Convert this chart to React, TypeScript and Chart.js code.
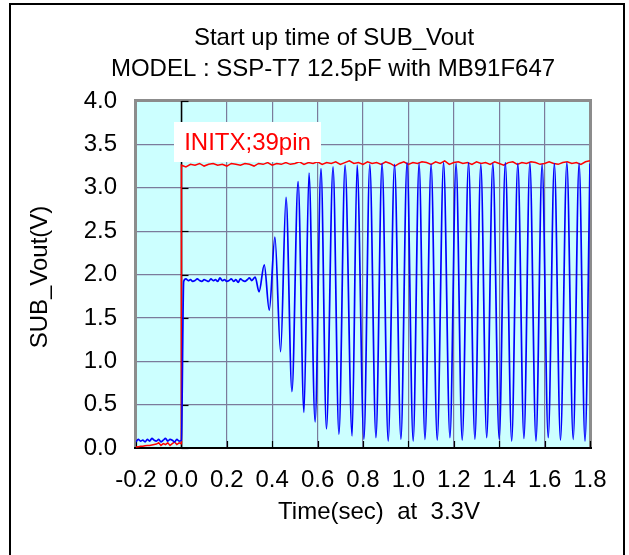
import React, { useEffect, useRef } from 'react';
import { Chart, registerables } from 'chart.js';

Chart.register(...registerables);

// ---------- text ----------
const titleLines = ['Start up time of SUB_Vout', 'MODEL : SSP-T7 12.5pF with MB91F647'];
const xAxisTitle = 'Time(sec)  at  3.3V';
const yAxisTitle = 'SUB_Vout(V)';
const annotationText = 'INITX;39pin';

// ---------- ticks ----------
const xTicks = [-0.2, 0.0, 0.2, 0.4, 0.6, 0.8, 1.0, 1.2, 1.4, 1.6, 1.8];
const yTicks = [0.0, 0.5, 1.0, 1.5, 2.0, 2.5, 3.0, 3.5, 4.0];

// ---------- INITX (red) ----------
const redPreStart = -0.2;
const redPreStep = 0.01;
const redPreValues = [0.01, 0.015, 0.02, 0.02, 0.025, 0.03, 0.03, 0.035, 0.04, 0.045, 0.06, 0.03, 0.05, 0.04, 0.06, 0.03, 0.05, 0.07, 0.04, 0.06, 0.05];
const redPostStart = 0.0;
const redPostStep = 0.02;
const redPostValues = [
  3.26, 3.24, 3.27, 3.26, 3.28, 3.25, 3.27, 3.28, 3.26, 3.27,
  3.25, 3.28, 3.27, 3.26, 3.28, 3.27, 3.25, 3.28, 3.27, 3.29,
  3.26, 3.28, 3.27, 3.29, 3.27, 3.28, 3.30, 3.27, 3.29, 3.28,
  3.30, 3.27, 3.29, 3.28, 3.30, 3.27, 3.29, 3.31, 3.28, 3.29,
  3.27, 3.30, 3.28, 3.29, 3.27, 3.30, 3.28, 3.25, 3.28, 3.30,
  3.27, 3.29, 3.28, 3.30, 3.29, 3.27, 3.30, 3.28, 3.31, 3.27,
  3.29, 3.30, 3.28, 3.29, 3.27, 3.30, 3.28, 3.29, 3.27, 3.30,
  3.28, 3.26, 3.29, 3.30, 3.27, 3.29, 3.28, 3.30, 3.29, 3.27,
  3.28, 3.30, 3.28, 3.27, 3.29, 3.30, 3.28, 3.29, 3.27, 3.30,
  3.31,
];

// ---------- SUB_Vout (blue) ----------
const bluePreStart = -0.2;
const bluePreStep = 0.01;
const bluePreValues = [0.07, 0.10, 0.08, 0.09, 0.07, 0.10, 0.08, 0.11, 0.09, 0.08, 0.10, 0.07, 0.09, 0.11, 0.08, 0.10, 0.09, 0.07, 0.10, 0.08, 0.09];
const blueFlatStart = 0.01;
const blueFlatStep = 0.01;
const blueFlatValues = [
  1.92, 1.95, 1.93, 1.94, 1.92, 1.93, 1.95, 1.93, 1.92, 1.94,
  1.93, 1.92, 1.95, 1.93, 1.94, 1.92, 1.96, 1.93, 1.94, 1.92,
  1.93, 1.95, 1.92, 1.94, 1.91, 1.95, 1.93, 1.92, 1.94, 1.96, 1.93,
];
const blueOscTimes = [
  0.325, 0.342, 0.365, 0.387, 0.412, 0.437, 0.461, 0.487, 0.514, 0.540,
  0.562, 0.589, 0.615, 0.639, 0.668, 0.694, 0.721, 0.752, 0.774, 0.804,
  0.830, 0.857, 0.884, 0.911, 0.939, 0.967, 0.994, 1.021, 1.047, 1.073,
  1.100, 1.127, 1.155, 1.183, 1.210, 1.237, 1.265, 1.293, 1.319, 1.345,
  1.372, 1.400, 1.427, 1.455, 1.482, 1.509, 1.535, 1.562, 1.589, 1.616,
  1.643, 1.670, 1.698, 1.726, 1.752, 1.778, 1.800,
];
const blueOscValues = [
  1.97, 1.80, 2.11, 1.59, 2.43, 1.11, 2.89, 0.65, 3.07, 0.41,
  3.17, 0.30, 3.22, 0.22, 3.24, 0.16, 3.26, 0.14, 3.26, 0.10,
  3.27, 0.12, 3.28, 0.08, 3.27, 0.10, 3.29, 0.08, 3.28, 0.10,
  3.27, 0.09, 3.29, 0.12, 3.28, 0.09, 3.29, 0.10, 3.27, 0.12,
  3.28, 0.10, 3.29, 0.08, 3.28, 0.11, 3.29, 0.08, 3.27, 0.12,
  3.28, 0.09, 3.29, 0.10, 3.28, 0.08, 3.28,
];

const FONT = "'Liberation Sans', Arial, Helvetica, sans-serif";

function sampled(start: number, step: number, values: number[]) {
  return values.map((v, i) => ({ x: +(start + i * step).toFixed(4), y: v }));
}

const redData = [...sampled(redPreStart, redPreStep, redPreValues), ...sampled(redPostStart, redPostStep, redPostValues)];
const blueData = [
  ...sampled(bluePreStart, bluePreStep, bluePreValues),
  ...sampled(blueFlatStart, blueFlatStep, blueFlatValues),
  ...blueOscTimes.map((t, i) => ({ x: t, y: blueOscValues[i] })),
];

const decor = {
  id: 'decor',
  beforeDraw(chart: any) {
    const { ctx, chartArea: a } = chart;
    ctx.save();
    ctx.fillStyle = '#ccffff';
    ctx.fillRect(a.left, a.top, a.right - a.left, a.bottom - a.top);
    ctx.restore();
  },
  beforeDatasetsDraw(chart: any) {
    const { ctx, chartArea: a, scales } = chart;
    ctx.save();
    ctx.strokeStyle = '#8c8c8c';
    ctx.lineWidth = 3;
    ctx.beginPath();
    ctx.moveTo(a.left - 0.5, a.bottom);
    ctx.lineTo(a.left - 0.5, a.top - 0.5);
    ctx.lineTo(a.right + 0.5, a.top - 0.5);
    ctx.lineTo(a.right + 0.5, a.bottom);
    ctx.stroke();
    ctx.strokeStyle = '#000';
    ctx.lineWidth = 2;
    ctx.beginPath();
    ctx.moveTo(a.left - 2, a.bottom);
    ctx.lineTo(a.right + 2, a.bottom);
    ctx.stroke();
    ctx.lineWidth = 1.2;
    xTicks.forEach((v) => {
      const px = Math.round(scales.x.getPixelForValue(v)) + 0.5;
      ctx.beginPath();
      ctx.moveTo(px, a.bottom);
      ctx.lineTo(px, a.bottom - 7);
      ctx.stroke();
    });
    const x0 = Math.round(scales.x.getPixelForValue(0)) + 0.5;
    ctx.lineWidth = 1.5;
    ctx.beginPath();
    ctx.moveTo(x0, a.top);
    ctx.lineTo(x0, a.bottom);
    ctx.stroke();
    ctx.lineWidth = 1.2;
    yTicks.forEach((v) => {
      const py = Math.round(scales.y.getPixelForValue(v)) + 0.5;
      ctx.beginPath();
      ctx.moveTo(x0, py);
      ctx.lineTo(x0 + 7, py);
      ctx.stroke();
    });
    ctx.restore();
  },
  afterDatasetsDraw(chart: any) {
    const { ctx } = chart;
    ctx.save();
    ctx.fillStyle = '#ffffff';
    ctx.fillRect(174, 122, 147, 40);
    ctx.fillStyle = '#ff0000';
    ctx.font = `24px ${FONT}`;
    ctx.textAlign = 'center';
    ctx.textBaseline = 'middle';
    ctx.fillText(annotationText, 247.5, 143);
    ctx.restore();
  },
  afterDraw(chart: any) {
    const { ctx } = chart;
    ctx.save();
    ctx.strokeStyle = '#000';
    ctx.lineWidth = 2;
    ctx.strokeRect(10, 4, 614, 600);
    ctx.fillStyle = '#000';
    ctx.font = `24px ${FONT}`;
    ctx.textAlign = 'center';
    ctx.textBaseline = 'alphabetic';
    ctx.fillText(titleLines[0], 334, 45);
    ctx.fillText(titleLines[1], 333, 76);
    ctx.textBaseline = 'middle';
    ctx.fillText(xAxisTitle, 379, 512);
    ctx.translate(40, 277);
    ctx.rotate(-Math.PI / 2);
    ctx.fillText(yAxisTitle, 0, 0);
    ctx.restore();
  },
};

export default function App() {
  const ref = useRef<HTMLCanvasElement | null>(null);
  useEffect(() => {
    if (!ref.current) return;
    const chart = new Chart(ref.current, {
      type: 'line',
      data: {
        datasets: [
          {
            label: 'SUB_Vout',
            data: blueData,
            borderColor: '#0000ff',
            borderWidth: 1.7,
            pointRadius: 0,
            fill: false,
            cubicInterpolationMode: 'monotone',
          },
          {
            label: 'INITX',
            data: redData,
            borderColor: '#ff0000',
            borderWidth: 1.5,
            pointRadius: 0,
            fill: false,
            tension: 0,
          },
        ],
      },
      options: {
        animation: false,
        responsive: false,
        devicePixelRatio: 1,
        layout: { padding: { left: 0, top: 101, right: 39, bottom: 0 } },
        plugins: { legend: { display: false }, tooltip: { enabled: false }, title: { display: false } },
        scales: {
          x: {
            type: 'linear',
            min: -0.2,
            max: 1.8,
            afterBuildTicks: (s: any) => { s.ticks = xTicks.map((v) => ({ value: v })); },
            afterFit: (s: any) => { s.height = 107; },
            ticks: {
              color: '#000',
              padding: 18,
              maxRotation: 0,
              autoSkip: false,
              font: { family: FONT, size: 24 },
              callback: (v: any) => (Math.abs(Number(v)) < 1e-9 ? '0.0' : Number(v).toFixed(1)),
            },
            grid: { color: '#7b7b9b', lineWidth: 1.2, drawTicks: false },
            border: { display: false },
          },
          y: {
            type: 'linear',
            min: 0,
            max: 4,
            afterBuildTicks: (s: any) => { s.ticks = yTicks.map((v) => ({ value: v })); },
            afterFit: (s: any) => { s.width = 136; },
            ticks: {
              color: '#000',
              padding: 19,
              autoSkip: false,
              font: { family: FONT, size: 24 },
              callback: (v: any) => Number(v).toFixed(1),
            },
            grid: { color: '#7b7b9b', lineWidth: 1.2, drawTicks: false },
            border: { display: false },
          },
        },
      },
      plugins: [decor],
    } as any);
    return () => chart.destroy();
  }, []);
  return (
    <div style={{ position: 'fixed', left: 0, top: 0, width: 629, height: 555, background: '#fff', overflow: 'hidden' }}>
      <canvas ref={ref} width={629} height={555} style={{ width: 629, height: 555, display: 'block' }} />
    </div>
  );
}
